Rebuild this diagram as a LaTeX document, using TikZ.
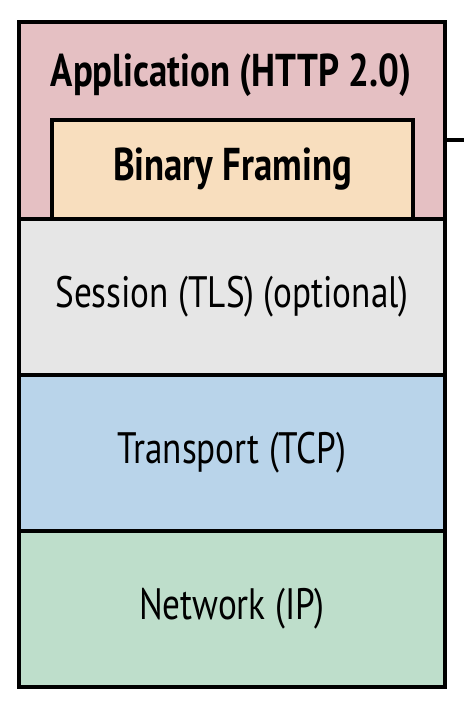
\documentclass[tikz,border=0pt]{standalone}
\usepackage{fontspec}
\newfontfamily\layerfont{PT Sans}[FakeStretch=0.8]
\definecolor{appfill}{RGB}{229,192,195}
\definecolor{framefill}{RGB}{248,222,190}
\definecolor{sessfill}{RGB}{230,230,230}
\definecolor{tcpfill}{RGB}{185,212,234}
\definecolor{ipfill}{RGB}{190,222,203}
\begin{document}
\begin{tikzpicture}[x=1pt,y=-1pt,
  layer/.style={draw=black,line width=4pt,anchor=north west,inner sep=0pt,
    minimum width=426pt,font=\layerfont\fontsize{44}{48}\selectfont},
  boldtext/.style={font=\layerfont\bfseries\fontsize{46}{50}\selectfont},
  caption/.style={inner sep=0pt,boldtext}]
\useasboundingbox (0,0) rectangle (464,704);
% protocol stack, top to bottom
\node[layer,fill=appfill,minimum height=197pt] (app) at (17,20) {};
\node[caption,anchor=base] (apptext) at (231,86) {Application (HTTP 2.0)};
\node[layer,fill=sessfill,minimum height=156pt] (tls) at (17,217) {Session (TLS) (optional)};
\node[layer,fill=tcpfill,minimum height=156pt] (tcp) at (17,373) {Transport (TCP)};
\node[layer,fill=ipfill,minimum height=156pt] (ip) at (17,529) {Network (IP)};
% framing layer inside the application layer
\node[layer,fill=framefill,minimum width=361pt,minimum height=99pt,boldtext] (framing) at (50,118) {Binary Framing};
% lead line leaving the application layer
\coordinate (lead) at (464,140);
\draw[line width=4pt] (app.east |- lead) -- (lead);
\end{tikzpicture}
\end{document}
